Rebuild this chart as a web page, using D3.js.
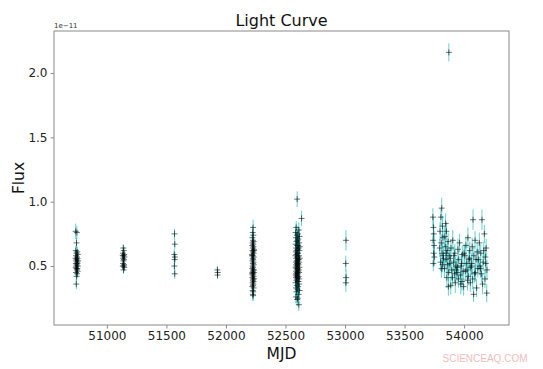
<!DOCTYPE html>
<html><head><meta charset="utf-8">
<script src="https://cdn.jsdelivr.net/npm/d3@7"></script>
<style>body{margin:0;background:#fff}svg{display:block}</style>
</head><body>
<svg id="c" width="543" height="369"></svg>
<script>
// ---- data (flux in units of 1e-11) ----
const xTicks = [51000, 51500, 52000, 52500, 53000, 53500, 54000];
const yTicks = [0.5, 1.0, 1.5, 2.0];
const mjd = [
  // season 1
  50738,50748,50745,50739,50751,50744,50756,50741,50749,50754,50737,50746,50758,50743,50750,50740,50753,50747,50744,50757,50739,50752,50745,50748,50755,50741,50750,50746,50743,
  // season 2
  51138,51142,51135,51145,51140,51133,51147,51137,51143,51139,51136,51144,51141,51134,51146,51140,
  // season 3
  51568,51570,51566,51571,51569,51567,51570,
  // season 4
  51928,51930,51929,
  // season 5
  52228,52225,52230,52222,52227,52233,52224,52229,52221,52231,52226,52235,52223,52228,52232,52220,52227,52234,52225,52229,52222,52231,52226,52233,52224,52228,52221,52230,52227,52235,52223,52229,52225,52232,52222,52228,52226,52231,52224,52230,52227,52221,52233,52225,52229,52226,52228,52236,52219,52234,52220,52237,
  // season 6
  52598,52635,52590,52612,52585,52604,52595,52618,52588,52608,52600,52592,52614,52586,52606,52597,52620,52589,52610,52602,52594,52616,52587,52605,52599,52591,52613,52584,52607,52596,52619,52590,52603,52611,52593,52600,52587,52615,52597,52606,52589,52609,52594,52601,52617,52586,52604,52592,52612,52598,52588,52607,52595,52614,52590,52603,52599,52586,52611,52593,52605,52588,52616,52597,52591,52609,52602,52585,52613,52595,52606,52589,52600,52618,52592,52610,52587,52604,52598,52612,
  // season 7
  53008,53006,53009,53007,
  // season 8
  53738,53742,53745,53740,53748,53744,53750,53741,
  53812,53805,53818,53798,53822,53808,53795,53815,53826,53802,53819,53810,
  53845,53852,53838,53866,53842,53858,53874,53848,53862,53836,53870,53855,53868,
  53872,
  53905,53890,53922,53884,53912,53930,53896,53918,53902,53926,53888,53935,
  53962,53948,53985,53955,53978,53944,53992,53968,53952,53982,53972,53996,
  54032,54015,54048,54006,54040,54022,54055,54010,54036,54028,54052,
  54075,54092,54068,54110,54082,54100,54065,54115,54088,54072,54080,54105,
  54150,54170,54128,54185,54140,54178,54160,54132,54192,54145,54175,54155,54190,
  53850,53880,53915,53940,53975,54000,54025,54045,54062,54095,54120,54138,54165,54182,53825
];
const flux = [
  0.77,0.76,0.68,0.62,0.61,0.60,0.59,0.58,0.57,0.56,0.56,0.55,0.54,0.54,0.53,0.52,0.52,0.51,0.50,0.50,0.49,0.48,0.48,0.47,0.46,0.45,0.44,0.42,0.36,
  0.64,0.62,0.60,0.59,0.58,0.58,0.57,0.56,0.55,0.54,0.52,0.51,0.50,0.50,0.49,0.47,
  0.75,0.67,0.59,0.57,0.55,0.50,0.44,
  0.47,0.45,0.43,
  0.80,0.76,0.74,0.72,0.70,0.69,0.68,0.67,0.66,0.65,0.64,0.63,0.62,0.61,0.60,0.59,0.58,0.57,0.56,0.55,0.54,0.53,0.52,0.51,0.50,0.49,0.48,0.47,0.46,0.45,0.45,0.44,0.43,0.42,0.41,0.40,0.39,0.38,0.37,0.36,0.35,0.34,0.33,0.31,0.30,0.28,0.27,0.62,0.58,0.47,0.44,0.40,
  1.02,0.87,0.80,0.78,0.76,0.75,0.74,0.73,0.72,0.71,0.70,0.69,0.68,0.67,0.66,0.66,0.65,0.64,0.64,0.63,0.62,0.62,0.61,0.60,0.60,0.59,0.58,0.58,0.57,0.57,0.56,0.56,0.55,0.55,0.54,0.54,0.53,0.53,0.52,0.52,0.51,0.51,0.50,0.50,0.49,0.49,0.48,0.48,0.47,0.47,0.46,0.46,0.45,0.45,0.44,0.44,0.43,0.43,0.42,0.42,0.41,0.41,0.40,0.40,0.39,0.38,0.38,0.37,0.36,0.35,0.34,0.33,0.32,0.31,0.30,0.28,0.26,0.25,0.24,0.20,
  0.70,0.52,0.41,0.37,
  0.88,0.80,0.75,0.70,0.66,0.60,0.57,0.52,
  0.95,0.88,0.81,0.77,0.72,0.68,0.64,0.60,0.56,0.53,0.51,0.48,
  0.83,0.77,0.73,0.69,0.65,0.62,0.58,0.55,0.51,0.48,0.45,0.41,0.34,
  2.16,
  0.70,0.64,0.60,0.56,0.53,0.50,0.47,0.44,0.41,0.37,0.35,0.47,
  0.68,0.63,0.59,0.55,0.52,0.49,0.46,0.43,0.40,0.38,0.36,0.34,
  0.72,0.66,0.62,0.58,0.55,0.52,0.49,0.46,0.42,0.39,0.37,
  0.86,0.70,0.65,0.61,0.58,0.55,0.52,0.48,0.44,0.40,0.28,0.33,
  0.86,0.75,0.68,0.64,0.60,0.57,0.53,0.50,0.47,0.44,0.40,0.36,0.29,
  0.60,0.52,0.58,0.45,0.50,0.60,0.47,0.56,0.50,0.45,0.55,0.48,0.62,0.52,0.58
];
const fluxErr = [
  0.06,0.05,0.04,0.04,0.04,0.03,0.04,0.04,0.03,0.04,0.03,0.04,0.03,0.04,0.03,0.04,0.03,0.04,0.04,0.03,0.04,0.03,0.04,0.03,0.04,0.04,0.03,0.04,0.04,
  0.03,0.03,0.03,0.03,0.03,0.03,0.03,0.03,0.03,0.03,0.03,0.03,0.03,0.03,0.03,0.03,
  0.04,0.04,0.04,0.04,0.04,0.04,0.04,
  0.03,0.03,0.03,
  0.06,0.05,0.04,0.05,0.04,0.04,0.05,0.04,0.04,0.05,0.04,0.04,0.05,0.04,0.04,0.05,0.04,0.04,0.05,0.04,0.04,0.05,0.04,0.04,0.05,0.04,0.04,0.05,0.04,0.04,0.05,0.04,0.04,0.05,0.04,0.04,0.05,0.04,0.04,0.05,0.04,0.04,0.05,0.04,0.04,0.05,0.04,0.04,0.05,0.04,0.04,0.04,
  0.06,0.06,0.05,0.06,0.05,0.06,0.05,0.06,0.05,0.06,0.05,0.06,0.05,0.06,0.05,0.06,0.05,0.06,0.05,0.06,0.05,0.06,0.05,0.06,0.05,0.06,0.05,0.06,0.05,0.06,0.05,0.06,0.05,0.06,0.05,0.06,0.05,0.06,0.05,0.06,0.05,0.06,0.05,0.06,0.05,0.06,0.05,0.06,0.05,0.06,0.05,0.06,0.05,0.06,0.05,0.06,0.05,0.06,0.05,0.06,0.05,0.06,0.05,0.06,0.05,0.06,0.05,0.06,0.05,0.06,0.05,0.06,0.05,0.06,0.05,0.06,0.05,0.06,0.05,0.05,
  0.08,0.06,0.06,0.07,
  0.07,0.08,0.07,0.06,0.07,0.06,0.07,0.06,
  0.08,0.07,0.08,0.07,0.08,0.07,0.07,0.08,0.07,0.07,0.06,0.07,
  0.08,0.07,0.08,0.07,0.07,0.08,0.07,0.07,0.08,0.07,0.07,0.08,0.07,
  0.07,
  0.08,0.07,0.07,0.08,0.07,0.07,0.08,0.07,0.07,0.08,0.07,0.07,
  0.07,0.08,0.07,0.07,0.08,0.07,0.07,0.08,0.07,0.07,0.08,0.07,
  0.08,0.07,0.07,0.08,0.07,0.07,0.08,0.07,0.07,0.08,0.07,
  0.08,0.07,0.07,0.08,0.07,0.07,0.08,0.07,0.07,0.08,0.06,0.07,
  0.08,0.07,0.08,0.07,0.07,0.08,0.07,0.07,0.08,0.07,0.07,0.08,0.07,
  0.07,0.08,0.07,0.07,0.08,0.07,0.07,0.08,0.07,0.07,0.08,0.07,0.07,0.08,0.07
];

const svg = d3.select('#c');
const m = {l: 54, r: 509, t: 31, b: 325};
const x = d3.scaleLinear().domain([50556, 54377]).range([m.l, m.r]);
const y = d3.scaleLinear().domain([0.042, 2.326]).range([m.b, m.t]);
const font = 'DejaVu Sans, sans-serif';
const pts = mjd.map((d, i) => ({m: d, f: flux[i], e: fluxErr[i]}));

// error bars
svg.append('g').selectAll('line').data(pts).join('line')
  .attr('x1', d => x(d.m)).attr('x2', d => x(d.m))
  .attr('y1', d => y(d.f - d.e)).attr('y2', d => y(d.f + d.e))
  .attr('stroke', '#00b3b3').attr('stroke-opacity', 0.6).attr('stroke-width', 1);
// '+' markers
const mk = svg.append('g').attr('stroke', '#000').attr('stroke-width', 0.7).attr('stroke-opacity', 0.8);
mk.selectAll('line.h').data(pts).join('line').attr('class', 'h')
  .attr('x1', d => x(d.m) - 3).attr('x2', d => x(d.m) + 3)
  .attr('y1', d => y(d.f)).attr('y2', d => y(d.f));
mk.selectAll('line.v').data(pts).join('line').attr('class', 'v')
  .attr('x1', d => x(d.m)).attr('x2', d => x(d.m))
  .attr('y1', d => y(d.f) - 3).attr('y2', d => y(d.f) + 3);

// frame
svg.append('rect').attr('x', m.l).attr('y', m.t).attr('width', m.r - m.l).attr('height', m.b - m.t)
  .attr('fill', 'none').attr('stroke', '#8a8a8a').attr('stroke-width', 1);

// axes
const xa = svg.append('g').attr('transform', `translate(0,${m.b})`)
  .call(d3.axisBottom(x).tickValues(xTicks).tickFormat(d3.format('d')).tickSize(3.5).tickPadding(3));
const ya = svg.append('g').attr('transform', `translate(${m.l},0)`)
  .call(d3.axisLeft(y).tickValues(yTicks).tickFormat(d3.format('.1f')).tickSize(3.5).tickPadding(3));
[xa, ya].forEach(a => {
  a.select('.domain').remove();
  a.selectAll('line').attr('stroke', '#8a8a8a');
  a.selectAll('text').attr('fill', '#222').style('font-family', font).style('font-size', '12px');
});

// texts
svg.append('text').attr('x', (m.l + m.r) / 2).attr('y', 26).attr('text-anchor', 'middle')
  .style('font-family', font).style('font-size', '16px').attr('fill', '#111').text('Light Curve');
svg.append('text').attr('x', m.l).attr('y', 28)
  .style('font-family', font).style('font-size', '7px').attr('fill', '#333').text('1e\u221211');
svg.append('text').attr('x', (m.l + m.r) / 2).attr('y', 359).attr('text-anchor', 'middle')
  .style('font-family', font).style('font-size', '15.5px').attr('fill', '#111').text('MJD');
svg.append('text').attr('transform', `translate(24,${(m.t + m.b) / 2}) rotate(-90)`).attr('text-anchor', 'middle')
  .style('font-family', font).style('font-size', '15.5px').attr('fill', '#111').text('Flux');
svg.append('text').attr('x', 485).attr('y', 362).attr('text-anchor', 'middle')
  .style('font-family', 'Liberation Sans, Arial, sans-serif').style('font-size', '10px').attr('fill', '#f2bcbc').text('SCIENCEAQ.COM');
</script>
</body></html>
